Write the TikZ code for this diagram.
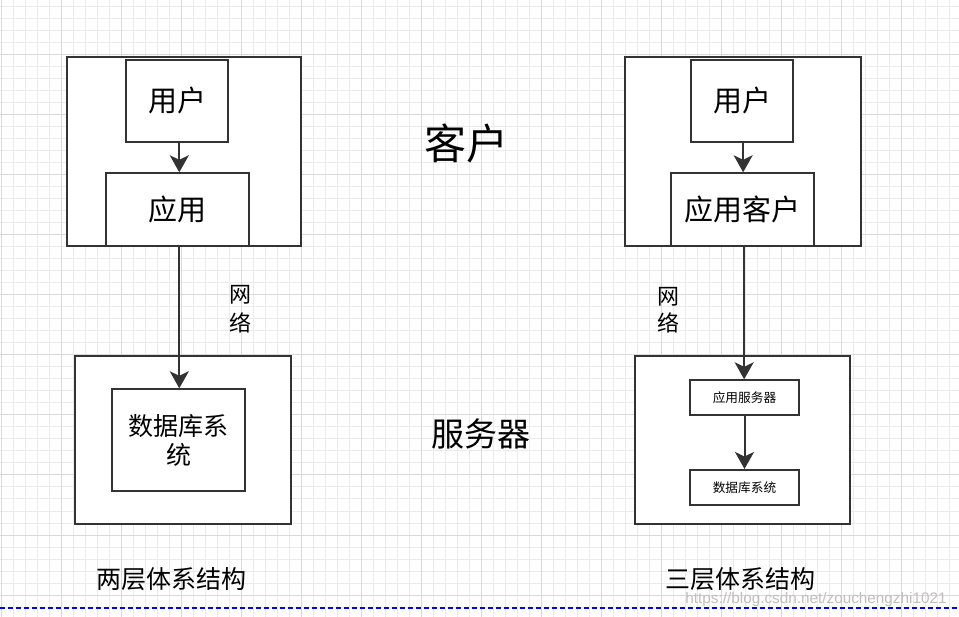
\documentclass[tikz,border=0pt]{standalone}
\usepackage{fontspec}
\setmainfont{Liberation Sans}
\newfontfamily\cjk{Noto Sans CJK SC}
\usetikzlibrary{arrows.meta}
\definecolor{edge}{HTML}{333333}
\tikzset{
  minorgrid/.style={line width=1pt, draw=black!8},
  majorgrid/.style={line width=1pt, draw=black!15},
  box/.style={draw=edge, line width=2pt, fill=white, inner sep=0pt, rectangle},
  conn/.style={draw=edge, line width=2pt, -{Stealth[length=17pt,width=19pt,inset=4.5pt]}, color=edge},
  lbl/.style={inner sep=0pt, text=black, align=center},
}
\newcommand{\fs}[2]{\cjk\fontsize{#1}{#2}\selectfont}
\begin{document}
\begin{tikzpicture}[x=1pt,y=-1pt]
\useasboundingbox (0,0) rectangle (959,617);
\fill[white] (0,0) rectangle (959,617);
% grid
\foreach \i in {0,...,79} { \draw[minorgrid] ({1+12*\i},0) -- ({1+12*\i},617); }
\foreach \i in {0,...,50} { \draw[minorgrid] (0,{7+12*\i}) -- (959,{7+12*\i}); }
\foreach \i in {0,...,15} { \draw[majorgrid] ({1+60*\i},0) -- ({1+60*\i},617); }
\foreach \i in {1,...,10} { \draw[majorgrid] (0,{-5+60*\i}) -- (959,{-5+60*\i}); }
% bottom dashed line
\draw[blue, line width=2pt, dash pattern=on 5pt off 3pt] (0,608) -- (959,608);
% watermark
\node[lbl, text=black!25, font=\fontsize{15.3}{16}\selectfont] (wm) at (816,600) {https://blog.csdn.net/zouchengzhi1021};

% ---------- left: two-tier ----------
\node[box, minimum width=234.3pt, minimum height=189pt] (outerL) at (183.85,151.2) {};
\node[box, minimum width=102pt, minimum height=82.3pt, font=\fs{29}{32}] (userL) at (177.3,100.85) {用户};
\node[box, minimum width=142.4pt, minimum height=72.4pt, font=\fs{29}{32}] (appL) at (177.5,209.5) {应用};
\node[box, minimum width=216pt, minimum height=167.7pt] (srvL) at (183.3,439.85) {};
\node[box, minimum width=133pt, minimum height=101.7pt, align=center, font=\fs{25}{29}] (dbL) at (178.8,440.15) {数据库系\\统};
\draw[conn] ([xshift=2pt]userL.south) -- ([xshift=2pt]userL.south |- appL.north);
\draw[conn] ([xshift=1.8pt]appL.south) -- ([xshift=1.8pt]appL.south |- dbL.north);
\node[lbl, font=\fs{22}{29}] (netL) at (240,309) {网\\络};

% ---------- right: three-tier ----------
\node[box, minimum width=235.7pt, minimum height=189pt] (outerR) at (742.85,151.2) {};
\node[box, minimum width=102.3pt, minimum height=82.3pt, font=\fs{29}{32}] (userR) at (742.15,100.85) {用户};
\node[box, minimum width=143.3pt, minimum height=72.4pt, font=\fs{29}{32}] (appR) at (742.65,209.5) {应用客户};
\node[box, minimum width=215.6pt, minimum height=167.7pt] (srvR) at (742.5,439.85) {};
\node[box, minimum width=109pt, minimum height=35pt, font=\fs{12.7}{15}] (asR) at (744.5,397.8) {应用服务器};
\node[box, minimum width=109pt, minimum height=35.3pt, font=\fs{12.7}{15}] (dbR) at (744.5,487.65) {数据库系统};
\draw[conn] ([xshift=1pt]userR.south) -- ([xshift=1pt]userR.south |- appR.north);
\draw[conn] ([xshift=1.5pt]appR.south) -- ([xshift=1.5pt]appR.south |- asR.north);
\draw[conn] (asR.south) -- (dbR.north);
\node[lbl, font=\fs{22}{27}] (netR) at (668,310) {网\\络};

% ---------- captions ----------
\node[lbl, font=\fs{42}{46}] (client) at (466.3,143) {客户};
\node[lbl, font=\fs{33}{36}] (server) at (481,434) {服务器};
\node[lbl, font=\fs{25}{28}] (capL) at (171.5,579) {两层体系结构};
\node[lbl, font=\fs{25}{28}] (capR) at (740.5,579) {三层体系结构};
\end{tikzpicture}
\end{document}
